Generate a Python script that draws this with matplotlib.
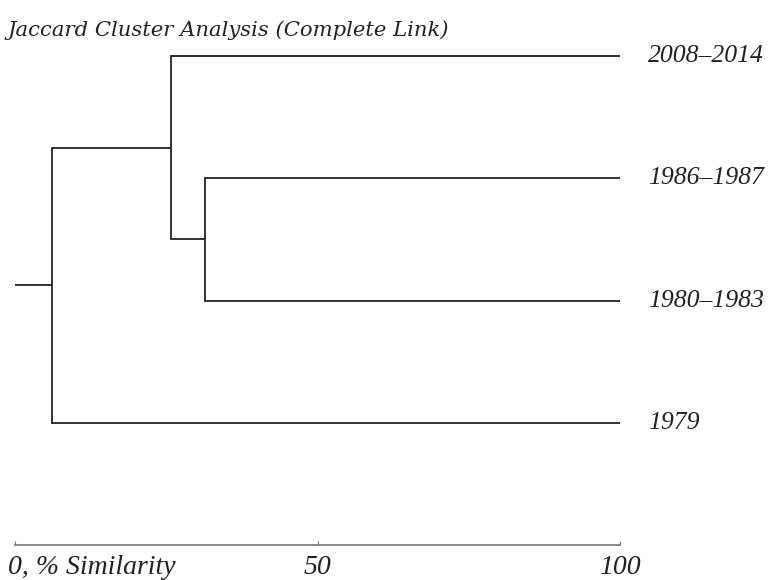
import matplotlib.pyplot as plt

# leaves, top to bottom
leaves = ['2008\u20132014', '1986\u20131987', '1980\u20131983', '1979']
leaf_y = [4, 3, 2, 1]

# merges: (left child, right child, % similarity)
merges = [
    ('1986\u20131987', '1980\u20131983', 31.4),
    ('n1', '2008\u20132014', 25.8),
    ('n2', '1979', 6.1),
]
tick_vals = [0, 50, 100]
tick_text = ['0, % Similarity', '50', '100']

fig = plt.figure(figsize=(7.83, 5.8), dpi=100)
ax = fig.add_axes([15 / 783, 35 / 580, 605 / 783, 513.4 / 580])

pos = {name: (100, y) for name, y in zip(leaves, leaf_y)}
lc = '#222222'
lw = 1.3
for i, (a, b, h) in enumerate(merges):
    xa, ya = pos[a]
    xb, yb = pos[b]
    ax.plot([h, xa], [ya, ya], color=lc, lw=lw, solid_capstyle='butt')
    ax.plot([h, xb], [yb, yb], color=lc, lw=lw, solid_capstyle='butt')
    ax.plot([h, h], [ya, yb], color=lc, lw=lw, solid_capstyle='projecting')
    pos['n%d' % (i + 1)] = (h, (ya + yb) / 2)

# root stub
rx, ry = pos['n%d' % len(merges)]
ax.plot([0, rx], [ry, ry], color=lc, lw=lw, solid_capstyle='butt')

for name, y in zip(leaves, leaf_y):
    ax.annotate(name, (100, y), xytext=(20, 0), textcoords='offset points',
                ha='left', va='center', fontsize=18.5, style='italic',
                family='Liberation Serif', color='#222222', annotation_clip=False)

ax.set_xlim(0, 100)
ax.set_ylim(0, 4.2)
for s in ['top', 'right', 'left']:
    ax.spines[s].set_visible(False)
ax.spines['bottom'].set_color('#777777')
ax.spines['bottom'].set_linewidth(1.2)
ax.set_yticks([])
ax.set_xticks(tick_vals)
ax.set_xticklabels([''] + tick_text[1:], fontsize=20, style='italic',
                   family='Liberation Serif', color='#222222')
ax.tick_params(axis='x', direction='in', length=3, color='#777777', pad=7)
ax.annotate(tick_text[0], (0, 0), xytext=(-5, -7), textcoords='offset points',
            ha='left', va='top', fontsize=20, style='italic',
            family='Liberation Serif', color='#222222', annotation_clip=False)

fig.text(8 / 783, 1 - 30 / 580, 'Jaccard Cluster Analysis (Complete Link)',
         fontsize=15.2, style='italic', family='DejaVu Serif', color='#222222',
         ha='left', va='center')

fig.savefig('out.png', dpi=100)
